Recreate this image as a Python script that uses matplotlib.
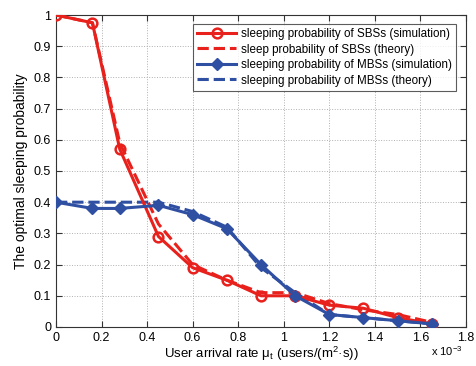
import numpy as np
import matplotlib
matplotlib.use("Agg")
import matplotlib.pyplot as plt

plt.rcParams['font.family'] = ['Liberation Sans', 'DejaVu Sans']
plt.rcParams['mathtext.fontset'] = 'custom'
plt.rcParams['mathtext.rm'] = 'Liberation Sans'
plt.rcParams['mathtext.it'] = 'Liberation Sans'

# user arrival rate (x 1e-3)
rate = [0, 0.16, 0.28, 0.45, 0.6, 0.75, 0.9, 1.05, 1.2, 1.35, 1.5, 1.65]

sbs_sim = [1.0, 0.975, 0.57, 0.29, 0.19, 0.15, 0.10, 0.10, 0.07, 0.06, 0.03, 0.01]
sbs_theory = [1.0, 0.975, 0.59, 0.33, 0.20, 0.15, 0.11, 0.11, 0.075, 0.055, 0.04, 0.015]
mbs_sim = [0.40, 0.38, 0.38, 0.39, 0.36, 0.315, 0.20, 0.10, 0.04, 0.03, 0.02, 0.01]
mbs_theory = [0.40, 0.40, 0.40, 0.40, 0.37, 0.32, 0.19, 0.11, 0.04, 0.03, 0.02, 0.01]

red = '#e8211d'
blue = '#2f4fa2'

fig = plt.figure(figsize=(4.76, 3.66), dpi=100)
ax = fig.add_axes([0.1176, 0.1066, 0.8614, 0.8524])

ax.plot(rate, sbs_sim, '-o', color=red, lw=2.2, ms=7, mfc='none', mew=1.8,
        label='sleeping probability of SBSs (simulation)', zorder=4)
ax.plot(rate, sbs_theory, '--', color=red, lw=2.2,
        label='sleep probability of SBSs (theory)', zorder=3)
ax.plot(rate, mbs_sim, '-D', color=blue, lw=2.2, ms=6, mfc=blue, mec=blue,
        label='sleeping probability of MBSs (simulation)', zorder=4)
ax.plot(rate, mbs_theory, '--', color=blue, lw=2.2,
        label='sleeping probability of MBSs (theory)', zorder=3)

ax.set_xlim(0, 1.8)
ax.set_ylim(0, 1)
ax.set_xticks(np.arange(0, 1.81, 0.2))
ax.set_xticklabels(['0', '0.2', '0.4', '0.6', '0.8', '1', '1.2', '1.4', '1.6', '1.8'])
ax.set_yticks(np.arange(0, 1.01, 0.1))
ax.set_yticklabels(['0', '0.1', '0.2', '0.3', '0.4', '0.5', '0.6', '0.7', '0.8', '0.9', '1'])
ax.tick_params(direction='in', top=True, right=True, labelsize=9, length=4, color='#333333')
for s in ax.spines.values():
    s.set_color('#333333')
    s.set_linewidth(0.8)
ax.grid(True, linestyle=':', color='#b0b0b0', lw=0.7)

ax.set_xlabel(r'User arrival rate μ$_t$ (users/(m$^2$·s))', fontsize=9.5, labelpad=1)
ax.set_ylabel('The optimal sleeping probability', fontsize=10, labelpad=4)
fig.text(0.905, 0.028, r'x 10$^{-3}$', fontsize=8)

leg = ax.legend(loc='upper right', fontsize=8.4, frameon=True, fancybox=False,
                edgecolor='#333333', handlelength=3.4, handletextpad=0.4,
                borderpad=0.35, labelspacing=0.3, bbox_to_anchor=(0.99, 0.99))
leg.get_frame().set_linewidth(0.8)

fig.savefig('out.png', dpi=100)
